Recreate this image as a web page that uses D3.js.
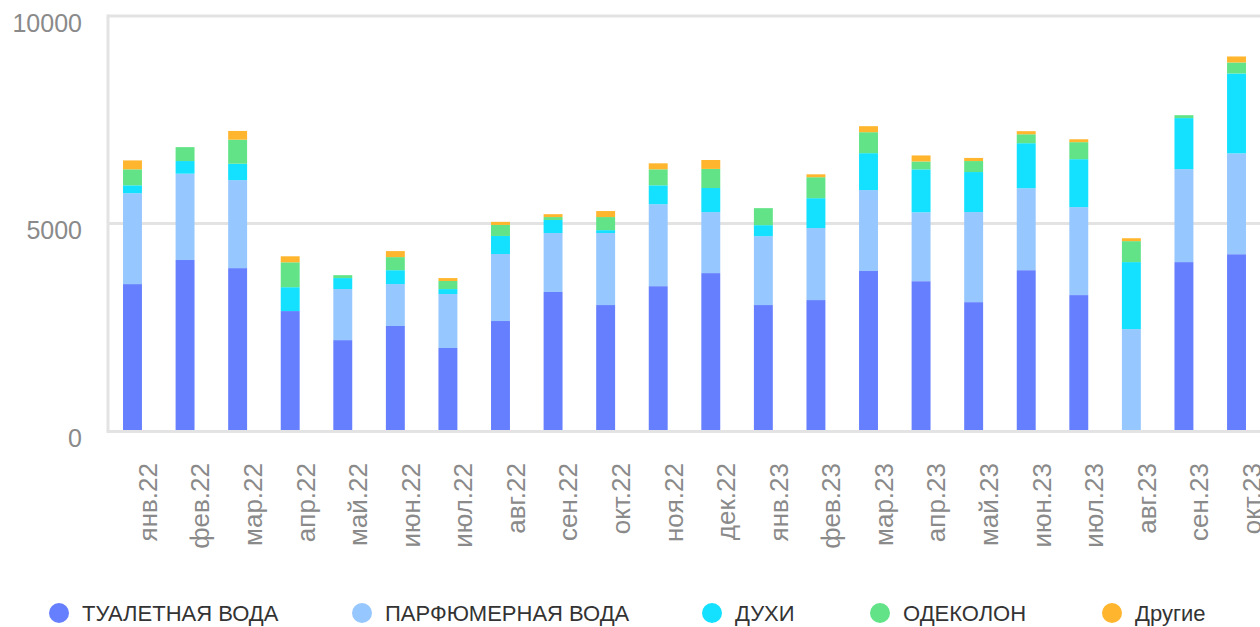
<!DOCTYPE html>
<html>
<head>
<meta charset="utf-8">
<script src="https://cdn.jsdelivr.net/npm/d3@7"></script>
<style>
  html, body { margin: 0; padding: 0; background: #fff; }
  svg { display: block; font-family: "Liberation Sans", Arial, Helvetica, sans-serif; }
</style>
</head>
<body>
<svg id="chart" width="1260" height="627"></svg>
<script>
// Продажи парфюмерии по месяцам, накопленные столбцы
const months = ["янв.22", "фев.22", "мар.22", "апр.22", "май.22", "июн.22", "июл.22", "авг.22", "сен.22", "окт.22", "ноя.22",
  "дек.22", "янв.23", "фев.23", "мар.23", "апр.23", "май.23", "июн.23", "июл.23", "авг.23", "сен.23", "окт.23"];

const toiletWater = [3540, 4120, 3925, 2890, 2190, 2530, 2000, 2650, 3350, 3035, 3490, 3805, 3035, 3155, 3855, 3610, 3105, 3875, 3275, 0, 4070, 4260];
const parfumWater = [2190, 2080, 2120, 0, 1230, 1010, 1300, 1615, 1420, 1735, 1975, 1470, 1660, 1735, 1950, 1660, 2170, 1975, 2120, 2455, 2240, 2430];
const perfume = [190, 305, 395, 575, 265, 335, 120, 435, 315, 70, 455, 580, 265, 720, 890, 1035, 965, 1085, 1155, 1615, 1230, 1925];
const cologne = [385, 335, 580, 600, 70, 315, 195, 265, 70, 315, 385, 460, 410, 505, 505, 190, 265, 215, 410, 505, 70, 265];
const other = [215, 0, 210, 145, 0, 145, 70, 75, 70, 145, 145, 215, 0, 70, 145, 145, 75, 75, 70, 70, 0, 145];

const seriesNames = ["ТУАЛЕТНАЯ ВОДА", "ПАРФЮМЕРНАЯ ВОДА", "ДУХИ", "ОДЕКОЛОН", "Другие"];
const seriesColors = ["#667fff", "#97c7ff", "#14e1ff", "#62e387", "#ffb62e"];
const yTicks = [0, 5000, 10000];

// ---------- таблица для d3.stack ----------
const columns = [toiletWater, parfumWater, perfume, cologne, other];
const rows = months.map((m, i) => {
  const r = { month: m };
  seriesNames.forEach((s, k) => (r[s] = columns[k][i]));
  return r;
});
const stacked = d3.stack().keys(seriesNames)(rows);

// ---------- шкалы ----------
const svg = d3.select("#chart");
const W = 1260;
const plotLeft = 108, plotTop = 16, plotBottom = 431;

const x = d3.scaleBand()
  .domain(months)
  .range([106.2, 1262.8])
  .paddingInner(0.64)
  .paddingOuter(0.32);

const y = d3.scaleLinear().domain([0, 10000]).range([plotBottom, plotTop]);

const GRID = "#e3e3e3";

// сетка
svg.append("g")
  .selectAll("line")
  .data(yTicks.filter((t) => t > 0))
  .join("line")
  .attr("x1", plotLeft)
  .attr("x2", W)
  .attr("y1", (d) => y(d))
  .attr("y2", (d) => y(d))
  .attr("stroke", GRID)
  .attr("stroke-width", 3);

svg.append("line")
  .attr("x1", plotLeft).attr("x2", plotLeft)
  .attr("y1", y(10000) - 1.5).attr("y2", plotBottom)
  .attr("stroke", GRID).attr("stroke-width", 3);

// столбцы
svg.append("g")
  .selectAll("g")
  .data(stacked)
  .join("g")
  .attr("fill", (d, i) => seriesColors[i])
  .selectAll("rect")
  .data((d) => d)
  .join("rect")
  .attr("x", (d) => x(d.data.month))
  .attr("width", x.bandwidth())
  .attr("y", (d) => y(d[1]))
  .attr("height", (d) => Math.max(0, y(d[0]) - y(d[1])));

// базовая линия поверх столбцов
svg.append("line")
  .attr("x1", plotLeft - 1.5).attr("x2", W)
  .attr("y1", y(0) + 0.5).attr("y2", y(0) + 0.5)
  .attr("stroke", GRID).attr("stroke-width", 3);

// подписи оси Y
svg.append("g")
  .selectAll("text")
  .data(yTicks)
  .join("text")
  .attr("x", 82)
  .attr("y", (d) => y(d) + 15.5)
  .attr("text-anchor", "end")
  .attr("font-size", 25)
  .attr("fill", "#8a8a8a")
  .text((d) => d);

// подписи оси X (повёрнуты)
svg.append("g")
  .selectAll("text")
  .data(months)
  .join("text")
  .attr("transform", (d) => `translate(${x(d) + x.bandwidth() / 2 + 15},463) rotate(-90)`)
  .attr("text-anchor", "end")
  .attr("dy", "0.36em")
  .attr("font-size", 26)
  .attr("fill", "#8a8a8a")
  .text((d) => d);

// ---------- легенда ----------
const legendX = [82, 385, 735, 903, 1135];
const legend = svg.append("g")
  .selectAll("g")
  .data(seriesNames)
  .join("g")
  .attr("transform", (d, i) => `translate(${legendX[i]},613)`);

legend.append("circle")
  .attr("cx", -23)
  .attr("r", 10)
  .attr("fill", (d, i) => seriesColors[i]);

legend.append("text")
  .attr("dy", "0.36em")
  .attr("font-size", 22)
  .attr("fill", "#333")
  .text((d) => d);
</script>
</body>
</html>
